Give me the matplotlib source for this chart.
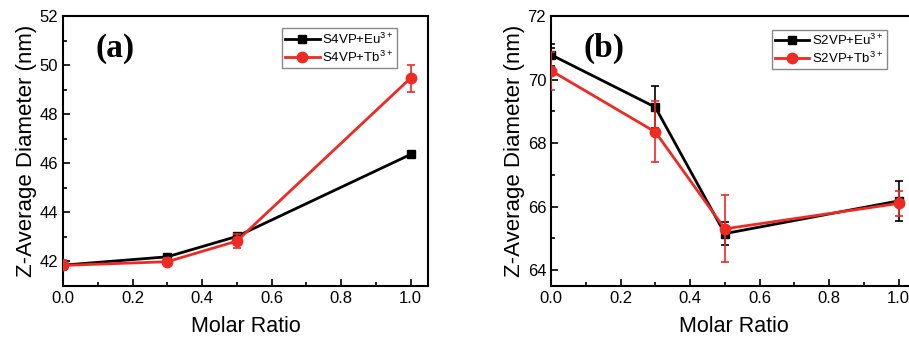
import numpy as np
import matplotlib
matplotlib.use('Agg')
import matplotlib.pyplot as plt
from matplotlib.ticker import MultipleLocator
from matplotlib.lines import Line2D

# --- data ---
ratio = [0.0, 0.3, 0.5, 1.0]

# panel (a): S4VP
a_eu = [41.85, 42.19, 43.02, 46.36]
a_eu_err = [0.12, 0.08, 0.12, 0.06]
a_tb = [41.84, 41.99, 42.83, 49.47]
a_tb_err = [0.20, 0.14, 0.28, 0.55]

# panel (b): S2VP
b_eu = [70.78, 69.13, 65.15, 66.18]
b_eu_err = [0.35, 0.67, 0.37, 0.63]
b_tb = [70.28, 68.35, 65.30, 66.10]
b_tb_err = [0.60, 0.96, 1.05, 0.40]

red = '#ee2a24'
plt.rcParams['font.family'] = ['Liberation Sans', 'DejaVu Sans']
plt.rcParams['mathtext.fontset'] = 'custom'
plt.rcParams['mathtext.rm'] = 'Liberation Sans'

fig = plt.figure(figsize=(9.09, 3.38), dpi=100)
ax1 = fig.add_axes([0.0693, 0.1538, 0.4015, 0.7988])
ax2 = fig.add_axes([0.6062, 0.1538, 0.4015, 0.7988])


def draw(ax, eu, eu_err, tb, tb_err, name, tag, ylim, ymaj, leg_anchor):
    ax.errorbar(ratio, eu, yerr=eu_err, color='black', marker='s', ms=6,
                lw=2, capsize=3, elinewidth=1.2, capthick=1.2, zorder=3)
    ax.errorbar(ratio, tb, yerr=tb_err, color=red, marker='o', ms=7.5,
                lw=2, capsize=3, elinewidth=1.2, capthick=1.2, zorder=4)
    ax.set_xlim(0, 1.05)
    ax.set_ylim(*ylim)
    ax.xaxis.set_major_locator(MultipleLocator(0.2))
    ax.xaxis.set_minor_locator(MultipleLocator(0.1))
    ax.yaxis.set_major_locator(MultipleLocator(ymaj))
    ax.yaxis.set_minor_locator(MultipleLocator(ymaj / 2))
    ax.tick_params(which='both', direction='in', labelsize=12, width=1.2)
    ax.tick_params(which='major', length=5)
    ax.tick_params(which='minor', length=3)
    for s in ax.spines.values():
        s.set_linewidth(1.5)
    ax.set_xlabel('Molar Ratio', fontsize=15.5, labelpad=7)
    ax.set_ylabel('Z-Average Diameter (nm)', fontsize=16, labelpad=2)
    ax.text(0.09, 0.88, tag, transform=ax.transAxes, fontsize=24, va='center',
            fontweight='bold', family='Liberation Serif')
    handles = [
        Line2D([], [], color='black', marker='s', ms=6, lw=2),
        Line2D([], [], color=red, marker='o', ms=7.5, lw=2),
    ]
    labels = [name + '+Eu$^{3+}$', name + '+Tb$^{3+}$']
    leg = ax.legend(handles, labels, loc='upper left', bbox_to_anchor=leg_anchor,
                    fontsize=9.5, fancybox=False, edgecolor='#888888',
                    framealpha=1, handlelength=2.6, handletextpad=0.2,
                    borderpad=0.25, labelspacing=0.2, borderaxespad=0)
    leg.get_frame().set_linewidth(1.0)


draw(ax1, a_eu, a_eu_err, a_tb, a_tb_err, 'S4VP', '(a)', (41, 52), 2,
     (0.60, 0.955))
draw(ax2, b_eu, b_eu_err, b_tb, b_tb_err, 'S2VP', '(b)', (63.5, 72), 2,
     (0.605, 0.95))

fig.savefig('out.png', dpi=100)
